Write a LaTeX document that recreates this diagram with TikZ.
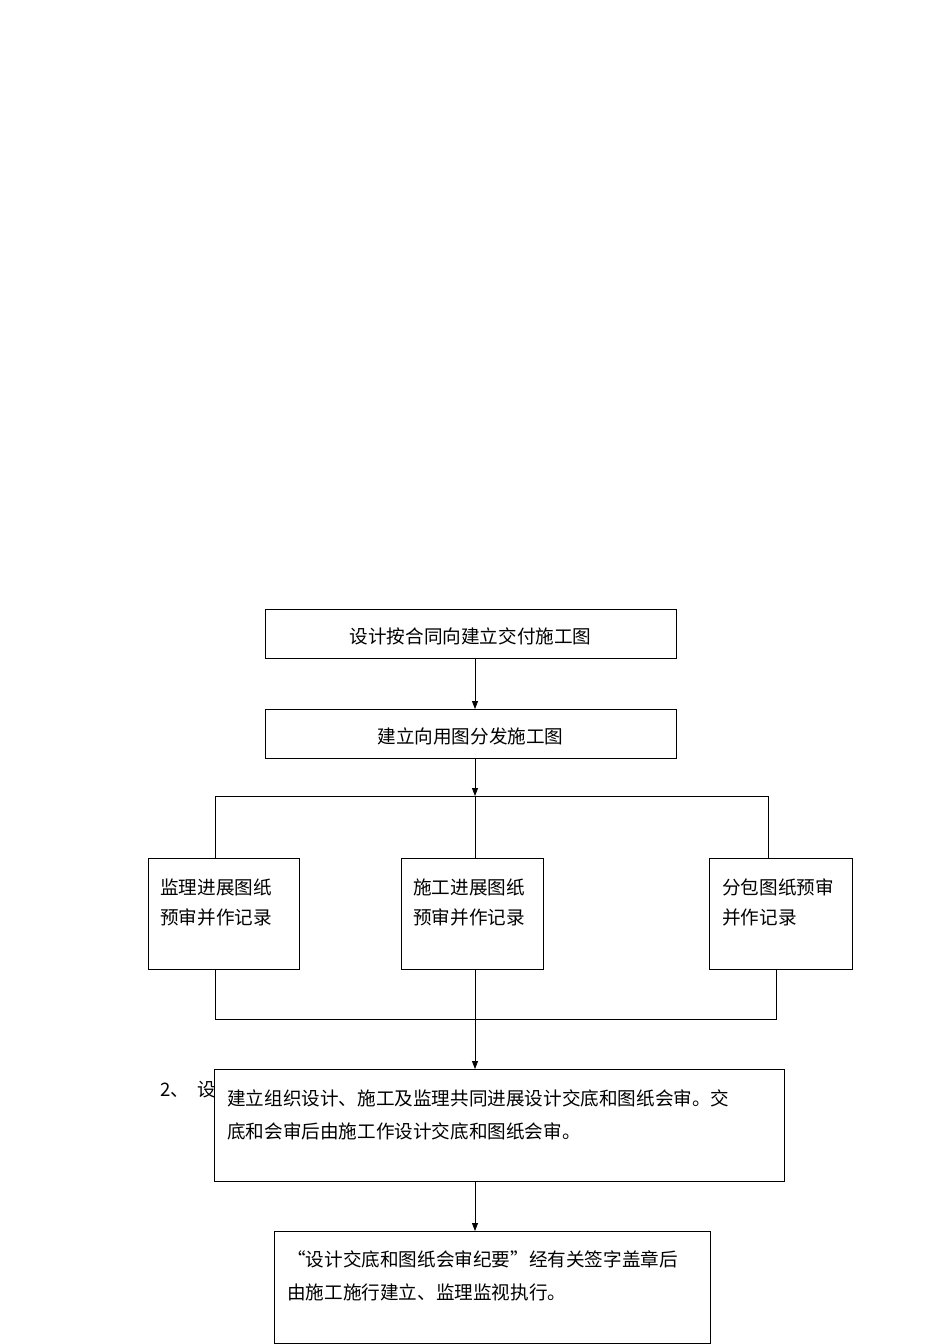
\documentclass[tikz,border=0pt]{standalone}
\usepackage{fontspec}
\setmainfont{Noto Sans CJK SC}
\usetikzlibrary{arrows.meta}
\begin{document}
\begin{tikzpicture}[x=1pt,y=-1pt,
  box/.style={draw,fill=white,line width=0.8pt},
  lbl/.style={font=\fontsize{18.6}{22}\selectfont,inner sep=0pt},
  arr/.style={-{Triangle[length=8pt,width=6pt]},line width=0.8pt},
  ln/.style={line width=0.8pt}]
\useasboundingbox (0,0) rectangle (950,1344);
\node[lbl,anchor=west] (two) at (160,1090) {2、\ \ 设};
\path[box] (265,609) rectangle (676,658) coordinate (aBR);
\coordinate (aB) at (475,658);
\node[lbl] (a) at (470.5,636) {设计按合同向建立交付施工图};
\path[box] (265,709) rectangle (676,758);
\coordinate (bT) at (475,709); \coordinate (bB) at (475,758);
\node[lbl] (b) at (470.5,736) {建立向用图分发施工图};
\coordinate (j) at (475,796);
\coordinate (jl) at (215,796); \coordinate (jr) at (768,796);
\draw[arr] (aB) -- (bT);
\draw[arr] (bB) -- (j);
\draw[ln] (jl) -- (jr);
\path[box] (148,858) rectangle (299,969);
\path[box] (401,858) rectangle (543,969);
\path[box] (709,858) rectangle (852,969);
\node[lbl,anchor=west] (c1a) at (160,887) {监理进展图纸};
\node[lbl,anchor=west] (c1b) at (160,917) {预审并作记录};
\node[lbl,anchor=west] (c2a) at (413,887) {施工进展图纸};
\node[lbl,anchor=west] (c2b) at (413,917) {预审并作记录};
\node[lbl,anchor=west] (c3a) at (722,887) {分包图纸预审};
\node[lbl,anchor=west] (c3b) at (722,917) {并作记录};
\coordinate (c1t) at (215,858); \coordinate (c2t) at (475,858); \coordinate (c3t) at (768,858);
\draw[ln] (jl) -- (c1t); \draw[ln] (j) -- (c2t); \draw[ln] (jr) -- (c3t);
\coordinate (c1b) at (215,969); \coordinate (c2bb) at (475,969); \coordinate (c3bb) at (776,969);
\coordinate (kl) at (215,1019); \coordinate (kr) at (776,1019); \coordinate (dT) at (475,1069);
\draw[ln] (c1b) -- (kl) -- (kr) -- (c3bb);
\draw[arr] (c2bb) -- (dT);
\path[box] (214,1069) rectangle (784,1181);
\node[lbl,anchor=west] (d1) at (227,1098) {建立组织设计、施工及监理共同进展设计交底和图纸会审。交};
\node[lbl,anchor=west] (d2) at (227,1131) {底和会审后由施工作设计交底和图纸会审。};
\coordinate (dB) at (475,1181); \coordinate (eT) at (475,1231);
\draw[arr] (dB) -- (eT);
\path[box] (274,1231) rectangle (710,1343);
\node[lbl,anchor=west] (e1) at (287,1259) {“设计交底和图纸会审纪要”经有关签字盖章后};
\node[lbl,anchor=west] (e2) at (287,1292) {由施工施行建立、监理监视执行。};
\end{tikzpicture}
\end{document}
